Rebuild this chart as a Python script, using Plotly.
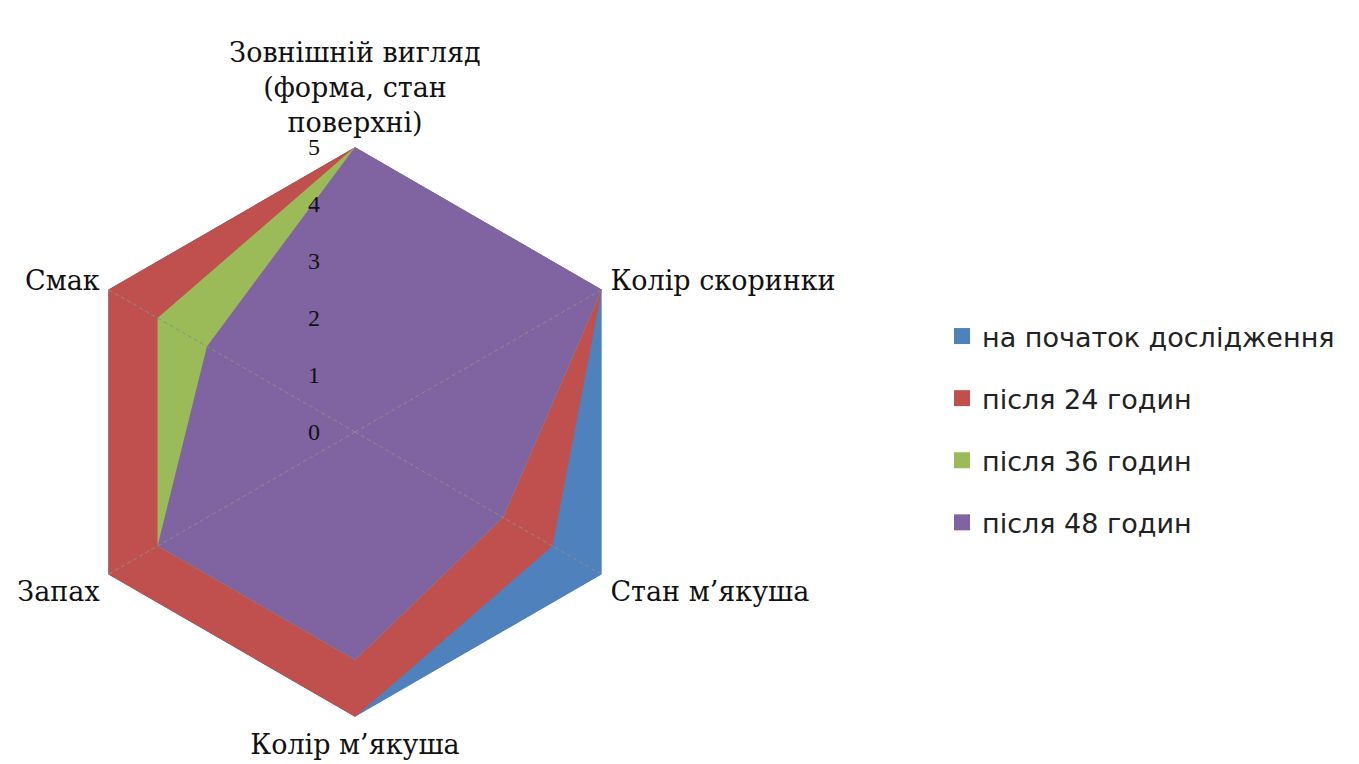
import plotly.graph_objects as go

# Sensory criteria (angular categories), clockwise from the top
categories = [
    "Зовнішній вигляд (форма, стан поверхні)",
    "Колір скоринки",
    "Стан м’якуша",
    "Колір м’якуша",
    "Запах",
    "Смак",
]
category_labels = [
    "Зовнішній вигляд<br>(форма, стан<br>поверхні)",
    "Колір скоринки",
    "Стан м’якуша",
    "Колір м’якуша",
    "Запах",
    "Смак",
]

# Scores (0–5) for each storage period
series_names = [
    "на початок дослідження",
    "після 24 годин",
    "після 36 годин",
    "після 48 годин",
]
scores_start = [5, 5, 5, 5, 5, 5]
scores_24h = [5, 5, 4, 5, 5, 5]
scores_36h = [5, 5, 3, 4, 4, 4]
scores_48h = [5, 5, 3, 4, 4, 3]
series_values = [scores_start, scores_24h, scores_36h, scores_48h]
series_colors = ["#4F81BD", "#C0504D", "#9BBB59", "#8064A2"]

radial_ticks = [0, 1, 2, 3, 4, 5]

# Spokes drawn over the filled areas (diagonal axes only)
spoke_categories = ["Колір скоринки", "Стан м’якуша", "Запах", "Смак"]
spoke_length = 5

W, H = 1359, 764
cx, cy, R = 355, 432, 285  # plot centre and radius in pixels

fig = go.Figure()

for name, vals, col in zip(series_names, series_values, series_colors):
    fig.add_trace(go.Scatterpolar(
        r=vals + vals[:1],
        theta=categories + categories[:1],
        fill="toself",
        fillcolor=col,
        mode="lines",
        line=dict(width=0, color=col),
        name=name,
        showlegend=False,
        hoverinfo="skip",
    ))

for cat in spoke_categories:
    fig.add_trace(go.Scatterpolar(
        r=[0, spoke_length],
        theta=[cat, cat],
        mode="lines",
        line=dict(color="#8C8C8C", width=1, dash="4px,3px"),
        showlegend=False,
        hoverinfo="skip",
    ))

# Square swatches for the legend
for i, (name, col) in enumerate(zip(series_names, series_colors)):
    fig.add_trace(go.Scatterpolar(
        r=[None],
        theta=[categories[0]],
        mode="markers",
        marker=dict(symbol="square", size=18, color=col),
        name=name,
        legendgroup=f"g{i}",
        showlegend=True,
    ))

fig.update_layout(
    width=W,
    height=H,
    margin=dict(l=0, r=0, t=0, b=0),
    paper_bgcolor="white",
    plot_bgcolor="white",
    showlegend=True,
    legend=dict(
        x=942 / W,
        y=1 - 312 / H,
        xanchor="left",
        yanchor="top",
        font=dict(family="DejaVu Sans, Arial, sans-serif", size=27, color="#222222"),
        tracegroupgap=24,
        itemsizing="trace",
        itemwidth=30,
        bgcolor="rgba(0,0,0,0)",
    ),
    polar=dict(
        domain=dict(
            x=[(cx - R) / W, (cx + R) / W],
            y=[(H - cy - R) / H, (H - cy + R) / H],
        ),
        bgcolor="white",
        gridshape="linear",
        radialaxis=dict(
            range=[0, 5],
            tickvals=radial_ticks,
            angle=90,
            side="counterclockwise",
            showline=False,
            showgrid=False,
            ticks="outside",
            ticklen=26,
            tickcolor="rgba(0,0,0,0)",
            tickangle=90,
            tickfont=dict(family="Liberation Serif, Times New Roman, serif", size=24, color="#111111"),
            layer="above traces",
        ),
        angularaxis=dict(
            rotation=90,
            direction="clockwise",
            type="category",
            categoryorder="array",
            categoryarray=categories,
            tickmode="array",
            tickvals=categories,
            ticktext=category_labels,
            showline=False,
            showgrid=False,
            ticks="outside",
            ticklen=4,
            tickcolor="rgba(0,0,0,0)",
            tickfont=dict(family="DejaVu Serif, Liberation Serif, serif", size=27, color="#111111"),
        ),
    ),
)

fig.write_html("out.html")
